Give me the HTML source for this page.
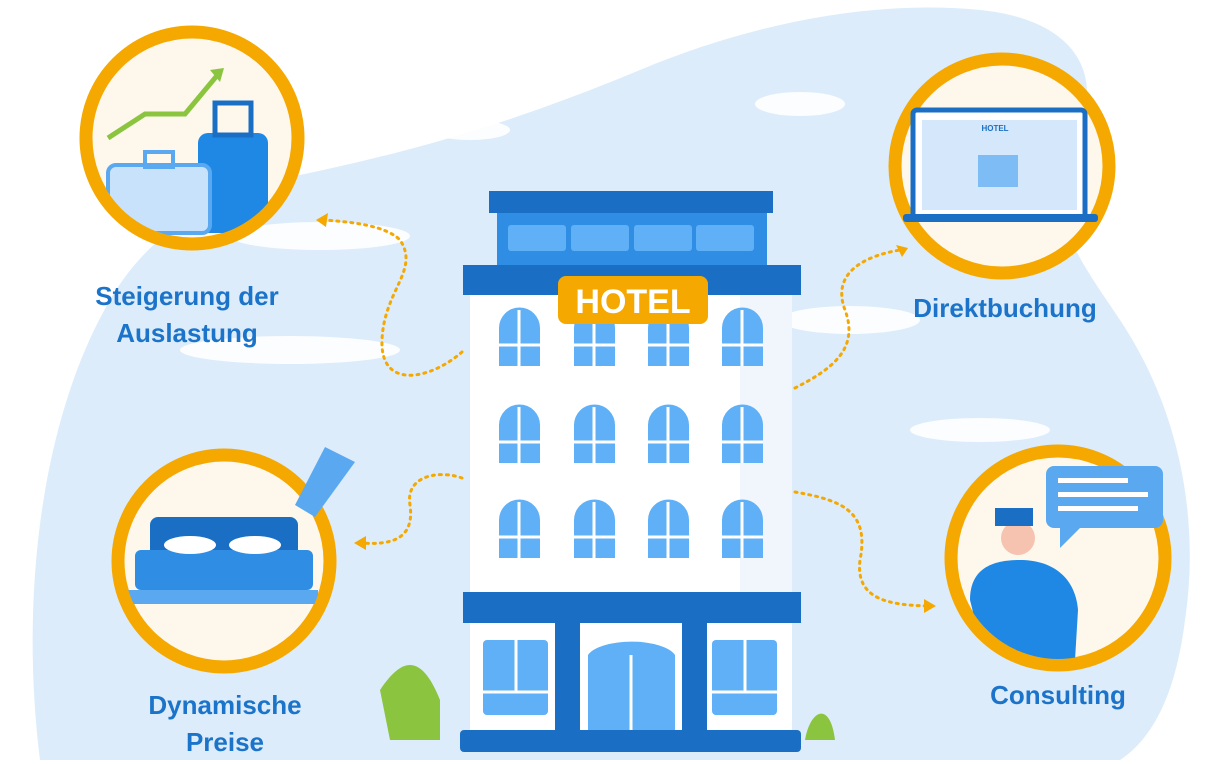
<!DOCTYPE html>
<html><head><meta charset="utf-8"><style>
html,body{margin:0;padding:0;background:#fff;}
svg{display:block}
text{font-family:"Liberation Sans",sans-serif;font-weight:bold;fill:#1b74c9;}
</style></head><body>
<svg width="1224" height="764" viewBox="0 0 1224 764" xmlns="http://www.w3.org/2000/svg">
<defs>
<clipPath id="c1"><circle cx="192" cy="138" r="100"/></clipPath>
<clipPath id="c2"><circle cx="1002" cy="166" r="101"/></clipPath>
<clipPath id="c3"><circle cx="224" cy="561" r="100"/></clipPath>
<clipPath id="c4"><circle cx="1058" cy="558" r="101"/></clipPath>
</defs>
<!-- background blob -->
<path d="M40 760 C20 600 40 420 110 300 C150 230 220 190 300 175 C420 150 520 120 640 70 C760 20 880 0 980 10 C1080 20 1110 80 1070 150 C1040 210 1080 260 1120 320 C1180 410 1200 520 1185 620 C1175 700 1150 740 1120 760 Z" fill="#dcecfb"/>
<g fill="#ffffff" opacity="0.9">
<ellipse cx="800" cy="104" rx="45" ry="12"/><ellipse cx="850" cy="320" rx="70" ry="14"/>
<ellipse cx="320" cy="236" rx="90" ry="14"/><ellipse cx="290" cy="350" rx="110" ry="14"/>
<ellipse cx="980" cy="430" rx="70" ry="12"/><ellipse cx="470" cy="130" rx="40" ry="10"/>
</g>
<g fill="none" stroke="#f5a800" stroke-width="3" stroke-dasharray="2 5" stroke-linecap="round">
<path d="M462 352 C430 380 380 390 382 340 C384 290 420 270 400 240 C385 225 350 222 325 220"/>
<path d="M795 388 C830 370 860 350 845 310 C830 270 870 255 900 250"/>
<path d="M462 478 C440 470 405 475 410 505 C415 540 390 545 362 543"/>
<path d="M795 492 C840 500 870 510 860 560 C855 600 890 605 928 606"/>
</g>
<g fill="#f5a800">
<path d="M316 220 l12 -7 l-2 14z"/><path d="M908 248 l-12 -3 l6 12z"/>
<path d="M354 543 l12 -7 l0 14z"/><path d="M936 606 l-12 -7 l0 14z"/>
</g>
<g stroke="#f5a800" stroke-width="13" fill="#fdf7ec">
<circle cx="192" cy="138" r="106"/><circle cx="1002" cy="166" r="107"/>
<circle cx="224" cy="561" r="106"/><circle cx="1058" cy="558" r="107"/>
</g>
<!-- luggage -->
<g clip-path="url(#c1)">
<polyline points="108,138 145,114 185,114 220,72" fill="none" stroke="#8bc53f" stroke-width="5"/>
<path d="M210 70 l14 -2 l-4 14z" fill="#8bc53f"/>
<rect x="198" y="133" width="70" height="100" rx="10" fill="#1f88e5"/>
<rect x="215" y="103" width="36" height="32" fill="none" stroke="#1a6fc4" stroke-width="5"/>
<rect x="108" y="165" width="102" height="68" rx="8" fill="#c9e2fb" stroke="#5aa9f0" stroke-width="4"/>
<rect x="145" y="152" width="28" height="15" fill="none" stroke="#5aa9f0" stroke-width="4"/>
</g>
<!-- laptop -->
<rect x="913" y="110" width="172" height="108" rx="4" fill="#ffffff" stroke="#1a6fc4" stroke-width="5"/>
<rect x="922" y="120" width="155" height="90" fill="#d5e8fb"/>
<rect x="903" y="214" width="195" height="8" rx="3" fill="#1a6fc4"/>
<text x="995" y="131" font-size="8" text-anchor="middle" style="fill:#1a6fc4">HOTEL</text>
<rect x="978" y="155" width="40" height="32" fill="#7dbcf5"/>
<!-- bed -->
<path d="M325 447 l30 15 l-40 55 l-20 -12z" fill="#5aa9f0"/>
<g clip-path="url(#c3)">
<rect x="150" y="517" width="148" height="40" rx="8" fill="#1a6fc4"/>
<rect x="135" y="550" width="178" height="40" rx="6" fill="#2f8de4"/>
<ellipse cx="190" cy="545" rx="26" ry="9" fill="#fff"/><ellipse cx="255" cy="545" rx="26" ry="9" fill="#fff"/>
<rect x="128" y="590" width="190" height="14" fill="#5aa9f0"/>
</g>
<!-- consultant -->
<g clip-path="url(#c4)">
<circle cx="1018" cy="538" r="17" fill="#f6c3b0"/>
<rect x="995" y="508" width="38" height="18" fill="#1a6fc4"/>
<path d="M970 600 C970 570 990 560 1020 560 C1050 560 1075 575 1078 610 L1075 660 L985 660 Z" fill="#1f88e5"/>
</g>
<rect x="1046" y="466" width="117" height="62" rx="8" fill="#5aa9f0"/>
<path d="M1060 528 l0 20 l20 -20z" fill="#5aa9f0"/>
<rect x="1058" y="478" width="70" height="5" fill="#fff"/><rect x="1058" y="492" width="90" height="5" fill="#fff"/><rect x="1058" y="506" width="80" height="5" fill="#fff"/>
<path d="M380 690 C400 660 420 650 440 700 L440 740 L390 740Z" fill="#8bc53f"/>
<path d="M805 740 C810 710 830 700 835 740Z" fill="#8bc53f"/>
<!-- building -->
<rect x="470" y="295" width="322" height="300" fill="#ffffff"/>
<rect x="740" y="295" width="52" height="300" fill="#f1f6fc"/>
<rect x="489" y="191" width="284" height="22" fill="#1a6fc4"/>
<rect x="497" y="213" width="270" height="52" fill="#2f8de4"/>
<g fill="#5fb0f7"><rect x="508" y="225" width="58" height="26" rx="3"/><rect x="571" y="225" width="58" height="26" rx="3"/><rect x="634" y="225" width="58" height="26" rx="3"/><rect x="696" y="225" width="58" height="26" rx="3"/></g>
<rect x="463" y="265" width="338" height="30" fill="#1a6fc4"/>
<g fill="#5fb0f7">
<g id="w"><path d="M499 366 V328 A20 20 0 0 1 540 328 V366Z"/></g>
<use href="#w" x="75"/><use href="#w" x="149"/><use href="#w" x="223"/>
<use href="#w" y="97"/><use href="#w" x="75" y="97"/><use href="#w" x="149" y="97"/><use href="#w" x="223" y="97"/>
<use href="#w" y="192"/><use href="#w" x="75" y="192"/><use href="#w" x="149" y="192"/><use href="#w" x="223" y="192"/>
</g>
<g stroke="#fff" stroke-width="3">
<path d="M519 310 V366 M499 345 H540 M594 310 V366 M574 345 H615 M668 310 V366 M648 345 H689 M742 310 V366 M722 345 H763"/>
<path d="M519 407 V463 M499 442 H540 M594 407 V463 M574 442 H615 M668 407 V463 M648 442 H689 M742 407 V463 M722 442 H763"/>
<path d="M519 502 V558 M499 537 H540 M594 502 V558 M574 537 H615 M668 502 V558 M648 537 H689 M742 502 V558 M722 537 H763"/>
</g>
<rect x="558" y="276" width="150" height="48" rx="8" fill="#f5a800"/>
<text x="633" y="313" font-size="34" text-anchor="middle" style="fill:#fff">HOTEL</text>
<rect x="463" y="592" width="338" height="31" fill="#1a6fc4"/>
<rect x="470" y="623" width="322" height="110" fill="#ffffff"/>
<rect x="483" y="640" width="65" height="75" rx="4" fill="#5fb0f7"/>
<rect x="712" y="640" width="65" height="75" rx="4" fill="#5fb0f7"/>
<path d="M588 740 V655 A45 18 0 0 1 675 655 V740Z" fill="#5fb0f7"/>
<path d="M631 655 V740 M483 692 H548 M516 640 V692 M712 692 H777 M745 640 V692" stroke="#fff" stroke-width="3"/>
<rect x="555" y="623" width="25" height="115" fill="#1a6fc4"/>
<rect x="682" y="623" width="25" height="115" fill="#1a6fc4"/>
<rect x="460" y="730" width="341" height="22" rx="4" fill="#1a6fc4"/>
<g font-size="26" text-anchor="middle">
<text x="187" y="305">Steigerung der</text>
<text x="187" y="342">Auslastung</text>
<text x="1005" y="317">Direktbuchung</text>
<text x="225" y="714">Dynamische</text>
<text x="225" y="751">Preise</text>
<text x="1058" y="704">Consulting</text>
</g>
</svg>
</body></html>
